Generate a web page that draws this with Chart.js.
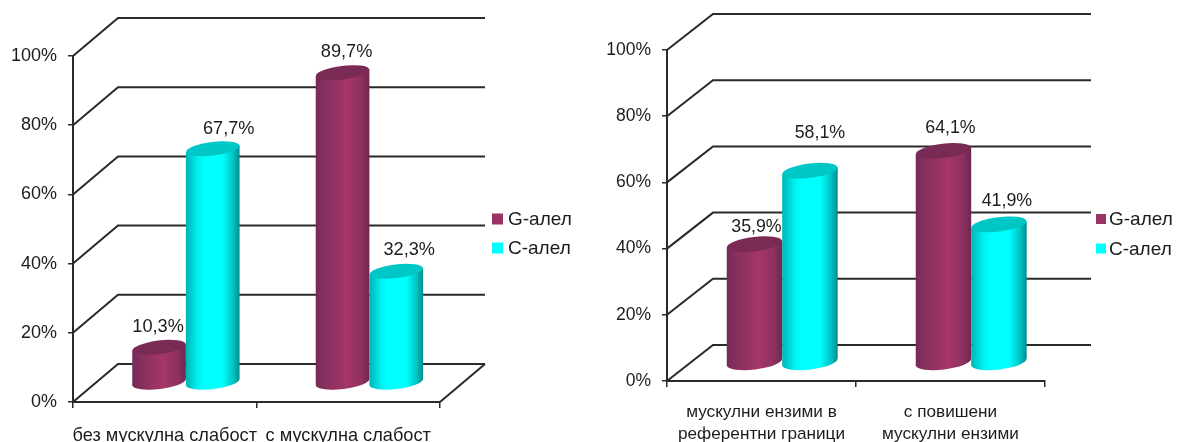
<!DOCTYPE html>
<html>
<head>
<meta charset="utf-8">
<script src="https://cdn.jsdelivr.net/npm/chart.js@4"></script>
<style>
  html, body { margin: 0; padding: 0; background: #fff; }
  canvas { position: absolute; top: 0; }
  #weakness { left: 0; }
  #enzymes { left: 590px; }
</style>
</head>
<body>
<canvas id="weakness" width="590" height="442"></canvas>
<canvas id="enzymes" width="587" height="442"></canvas>
<script>
const seriesNames = ['G-алел', 'C-алел'];
const seriesColors = ['#993366', '#00ffff'];

const weaknessCategories = ['без мускулна слабост', 'с мускулна слабост'];
const weaknessG = [10.3, 89.7];
const weaknessC = [67.7, 32.3];

const enzymeCategories = [['мускулни ензими в', 'референтни граници'], ['с повишени', 'мускулни ензими']];
const enzymeG = [35.9, 64.1];
const enzymeC = [58.1, 41.9];

const INK = '#1c1c1c';
const LINE = '#2a2a2a';

// Side shading and cap tone of the cylinders, one entry per series.
const shading = [
  { stops: [[0, '#772a56'], [0.18, '#87305f'], [0.58, '#a53668'], [0.85, '#8e3160'], [1, '#6f2650']], cap: '#7a2b55' },
  { stops: [[0, '#00b4b4'], [0.22, '#00f0f0'], [0.35, '#00ffff'], [0.68, '#00ffff'], [0.88, '#00c4c4'], [1, '#008c8c']], cap: '#00c6c6' }
];

function drawCylinder(ctx, bar, look, o) {
  const tilt = -7 * Math.PI / 180;
  const hw = bar.width / 2;
  const cx = bar.x + o.dx * o.mid;
  const top = bar.y + o.dy / 2;
  const base = bar.base + o.dy / 2;
  const lift = hw * Math.sin(-tilt);
  const g = ctx.createLinearGradient(cx - hw, 0, cx + hw, 0);
  look.stops.forEach(s => g.addColorStop(s[0], s[1]));
  ctx.save();
  ctx.fillStyle = g;
  ctx.beginPath();
  ctx.ellipse(cx, base, hw, o.ry, tilt, 0, Math.PI * 2);
  ctx.fill();
  ctx.beginPath();
  ctx.moveTo(cx - hw, top + lift);
  ctx.lineTo(cx - hw, base + lift);
  ctx.lineTo(cx + hw, base - lift);
  ctx.lineTo(cx + hw, top - lift);
  ctx.closePath();
  ctx.fill();
  ctx.fillStyle = look.cap;
  ctx.beginPath();
  ctx.ellipse(cx, top, hw, o.ry, tilt, 0, Math.PI * 2);
  ctx.fill();
  ctx.restore();
}

const walls = {
  id: 'walls',
  // Receding floor and back-wall lines, hung off the value scale.
  beforeDatasetsDraw(chart, _a, o) {
    const { ctx, chartArea: a, scales: { y } } = chart;
    ctx.save();
    ctx.strokeStyle = LINE;
    ctx.lineWidth = 2;
    y.ticks.forEach(t => {
      const py = y.getPixelForValue(t.value);
      ctx.beginPath();
      ctx.moveTo(a.left, py);
      ctx.lineTo(a.left + o.dx, py + o.dy);
      ctx.lineTo(a.right + o.dx, py + o.dy);
      ctx.stroke();
    });
    if (o.floorEdge) {
      ctx.beginPath();
      ctx.moveTo(a.right, a.bottom);
      ctx.lineTo(a.right + o.dx, a.bottom + o.dy);
      ctx.stroke();
    }
    ctx.restore();
  },
  // The flat bars are skipped; cylinders take their place below.
  beforeDatasetDraw() {
    return false;
  },
  // Cylinders standing mid-way along the floor, then value labels and the legend block.
  afterDatasetsDraw(chart, _a, o) {
    const { ctx } = chart;
    chart.data.datasets.forEach((ds, di) => {
      chart.getDatasetMeta(di).data.forEach(bar => drawCylinder(ctx, bar, shading[di], o));
    });
    ctx.save();
    ctx.fillStyle = INK;
    ctx.textBaseline = 'middle';
    ctx.font = o.valueFont + 'px "Liberation Sans", Arial, sans-serif';
    ctx.textAlign = 'center';
    chart.data.datasets.forEach((ds, di) => {
      chart.getDatasetMeta(di).data.forEach((bar, i) => {
        const shift = o.labelShift[di][i];
        const text = ds.data[i].toFixed(1).replace('.', ',') + '%';
        ctx.fillText(text, bar.x + o.dx * o.mid + shift[0], bar.y + o.dy / 2 + shift[1]);
      });
    });
    ctx.textAlign = 'left';
    ctx.font = o.legendFont + 'px "Liberation Sans", Arial, sans-serif';
    chart.data.datasets.forEach((ds, di) => {
      const y = o.legend.y + di * o.legend.step;
      ctx.fillStyle = ds.backgroundColor;
      ctx.fillRect(o.legend.x, y - o.legend.box / 2, o.legend.box, o.legend.box);
      ctx.fillStyle = INK;
      ctx.fillText(ds.label, o.legend.x + o.legend.textGap, y + 1);
    });
    ctx.restore();
  }
};

function build(id, categories, g, c, look) {
  new Chart(document.getElementById(id), {
    type: 'bar',
    data: {
      labels: categories,
      datasets: [
        { label: seriesNames[0], data: g, backgroundColor: seriesColors[0] },
        { label: seriesNames[1], data: c, backgroundColor: seriesColors[1] }
      ]
    },
    plugins: [walls],
    options: {
      responsive: false,
      animation: false,
      devicePixelRatio: 1,
      categoryPercentage: look.groupShare,
      barPercentage: 1,
      layout: { autoPadding: false, padding: { top: look.top, right: look.right, left: 0, bottom: 0 } },
      plugins: {
        legend: { display: false },
        tooltip: { enabled: false },
        walls: look.walls
      },
      scales: {
        x: {
          afterFit: s => { s.height = look.axisHeight; },
          border: { color: LINE, width: 2 },
          grid: { drawOnChartArea: false, color: LINE, lineWidth: 1.5, tickLength: 6 },
          ticks: {
            color: INK, autoSkip: false, maxRotation: 0, minRotation: 0, padding: look.catPad,
            font: { family: '"Liberation Sans", Arial, sans-serif', size: look.catFont, lineHeight: look.catLine }
          }
        },
        y: {
          min: 0, max: 100,
          afterFit: s => { s.width = look.axisWidth; },
          border: { color: LINE, width: 2 },
          grid: { drawOnChartArea: false, color: LINE, lineWidth: 1.5, tickLength: 5 },
          ticks: {
            stepSize: 20, color: INK, padding: 11,
            callback: v => v + '%',
            font: { family: '"Liberation Sans", Arial, sans-serif', size: look.tickFont }
          }
        }
      }
    }
  });
}

build('weakness', weaknessCategories, weaknessG, weaknessC, {
  top: 56, right: 150, axisWidth: 73, axisHeight: 40, groupShare: 0.585,
  catPad: 17, catFont: 18.2, catLine: 1.2, tickFont: 18,
  walls: {
    dx: 45, dy: -38, mid: 0.47, ry: 6.8, floorEdge: true, valueFont: 18.2, legendFont: 19,
    legend: { x: 492, y: 219, step: 29, box: 11, textGap: 16 },
    labelShift: [[[-1, -20], [4, -21]], [[16, -20], [13, -21]]]
  }
});

build('enzymes', enzymeCategories, enzymeG, enzymeC, {
  top: 50, right: 132, axisWidth: 77, axisHeight: 61, groupShare: 0.587,
  catPad: 15, catFont: 17.2, catLine: 1.25, tickFont: 17.5,
  walls: {
    dx: 46, dy: -36, mid: 0.45, ry: 7.2, floorEdge: false, valueFont: 17.8, legendFont: 19,
    legend: { x: 506, y: 219, step: 29.5, box: 10, textGap: 13 },
    labelShift: [[[2, -17], [7, -23]], [[10, -38], [8, -23]]]
  }
});
</script>
</body>
</html>
